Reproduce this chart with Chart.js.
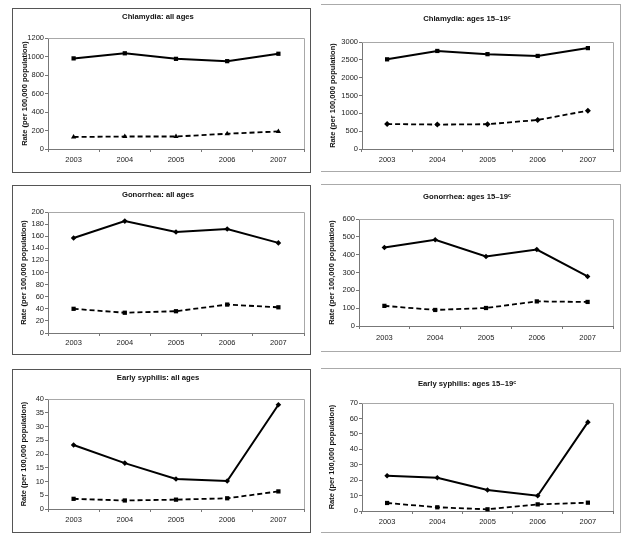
<!DOCTYPE html>
<html>
<head>
<meta charset="utf-8">
<script src="https://cdn.jsdelivr.net/npm/chart.js@4/dist/chart.umd.min.js"></script>
<style>
  body { margin:0; background:#fff; width:628px; height:539px; position:relative; overflow:hidden; }
  canvas { position:absolute; }
  .frame { position:absolute; box-sizing:border-box; pointer-events:none; }
  .frame.l { border:1px solid #555; }
  .frame.r { border-top:1px solid #aaa; border-right:1px solid #aaa; border-bottom:1px solid #aaa; }
</style>
</head>
<body>
<script>
// --- data ---
const years = ['2003', '2004', '2005', '2006', '2007'];

const chlamydiaAll      = [980, 1035, 975, 950, 1030];
const chlamydiaAllLow   = [130, 135, 135, 165, 190];
const chlamydiaTeen     = [2515, 2750, 2660, 2610, 2830];
const chlamydiaTeenLow  = [700, 685, 695, 815, 1075];

const gonorrheaAll      = [157, 185, 167, 172, 149];
const gonorrheaAllLow   = [40, 33.5, 36, 47, 42.5];
const gonorrheaTeen     = [440, 484, 390, 429, 278];
const gonorrheaTeenLow  = [113, 90, 101, 138, 135];

const syphilisAll       = [23.3, 16.7, 10.9, 10.2, 37.9];
const syphilisAllLow    = [3.7, 3.1, 3.4, 3.9, 6.4];
const syphilisTeen      = [22.9, 21.6, 13.6, 9.9, 57.6];
const syphilisTeenLow   = [5.2, 2.4, 1.1, 4.3, 5.4];

const yTitle = 'Rate (per 100,000 population)';

// --- panel layout (frame rect, plot insets, marker kinds) ---
const panels = [
  { title:'Chlamydia: all ages', solid:chlamydiaAll, dashed:chlamydiaAllLow, max:1200, step:200,
    ms:'rect', md:'triangle', side:'l', x:12, y:8, w:299, h:165, yw:36, xh:24, pr:7, tt:4.4, tb:16.4, yt:8.5, lp:3 },
  { title:'Chlamydia: ages 15\u201319\u1D9C', solid:chlamydiaTeen, dashed:chlamydiaTeenLow, max:3000, step:500,
    ms:'rect', md:'rectRot', side:'r', x:321, y:4, w:300, h:168, yw:41, xh:23, pr:8, tt:10.4, tb:18.4, yt:7.5, lp:3 },
  { title:'Gonorrhea: all ages', solid:gonorrheaAll, dashed:gonorrheaAllLow, max:200, step:20,
    ms:'rectRot', md:'rect', side:'l', x:12, y:185, w:299, h:170, yw:36, xh:22, pr:7, tt:5.4, tb:12.4, yt:7.5, lp:2.5 },
  { title:'Gonorrhea: ages 15\u201319\u1D9C', solid:gonorrheaTeen, dashed:gonorrheaTeenLow, max:600, step:100,
    ms:'rectRot', md:'rect', side:'r', x:321, y:184, w:300, h:168, yw:38, xh:26, pr:8, tt:8.4, tb:17.4, yt:6.5, lp:4 },
  { title:'Early syphilis: all ages', solid:syphilisAll, dashed:syphilisAllLow, max:40, step:5,
    ms:'rectRot', md:'rect', side:'l', x:12, y:369, w:299, h:164, yw:36, xh:24, pr:7, tt:4.4, tb:16.4, yt:7.5, lp:3 },
  { title:'Early syphilis: ages 15\u201319\u1D9C', solid:syphilisTeen, dashed:syphilisTeenLow, max:70, step:10,
    ms:'rectRot', md:'rect', side:'r', x:321, y:368, w:300, h:165, yw:41, xh:22, pr:8, tt:11.4, tb:14.4, yt:6.5, lp:3 }
];

Chart.defaults.font.family = "'Liberation Sans', Arial, sans-serif";
Chart.defaults.color = '#222';

// gray box on top/right of the plot area, like the Excel originals
const plotBox = {
  id: 'plotBox',
  beforeDatasetsDraw(chart) {
    const a = chart.chartArea, ctx = chart.ctx;
    ctx.save();
    ctx.strokeStyle = '#a8a8a8';
    ctx.lineWidth = 1;
    ctx.beginPath();
    ctx.moveTo(a.left, Math.round(a.top) + 0.5);
    ctx.lineTo(Math.round(a.right) + 0.5, Math.round(a.top) + 0.5);
    ctx.lineTo(Math.round(a.right) + 0.5, a.bottom);
    ctx.stroke();
    ctx.restore();
  }
};

panels.forEach(p => {
  const cv = document.createElement('canvas');
  cv.width = p.w; cv.height = p.h;
  cv.style.left = p.x + 'px'; cv.style.top = p.y + 'px';
  document.body.appendChild(cv);
  const fr = document.createElement('div');
  fr.className = 'frame ' + p.side;
  fr.style.cssText = `left:${p.x}px;top:${p.y}px;width:${p.w}px;height:${p.h}px;`;
  document.body.appendChild(fr);

  new Chart(cv, {
    type: 'line',
    data: {
      labels: years,
      datasets: [
        { data: p.solid, borderColor:'#000', backgroundColor:'#000', borderWidth:2,
          pointStyle:p.ms, pointRadius:p.ms === 'rect' ? 3 : 2.8, pointBorderWidth:0, tension:0, clip:false },
        { data: p.dashed, borderColor:'#000', backgroundColor:'#000', borderWidth:1.8, borderDash:[5, 3],
          pointStyle:p.md, pointRadius:3, pointBorderWidth:0, tension:0, clip:false }
      ]
    },
    options: {
      responsive: false,
      animation: false,
      layout: { padding: { left:0, right:p.pr, top:0, bottom:0 } },
      plugins: {
        legend: { display:false },
        tooltip: { enabled:false },
        title: { display:true, text:p.title, color:'#111',
                 font:{ size:7.7, weight:'bold' }, padding:{ top:p.tt, bottom:p.tb } }
      },
      scales: {
        x: {
          offset: true,
          grid: { offset:true, drawOnChartArea:false, drawTicks:true, tickLength:3, color:'#777' },
          border: { display:true, color:'#777', width:1 },
          ticks: { font:{ size:7.5 }, padding:p.lp, maxRotation:0 },
          afterFit: s => { s.height = p.xh; }
        },
        y: {
          min: 0, max: p.max,
          grid: { drawOnChartArea:false, drawTicks:true, tickLength:3, color:'#777' },
          border: { display:true, color:'#777', width:1 },
          ticks: { stepSize:p.step, font:{ size:7.5 }, padding:1, callback: v => String(v) },
          title: { display:true, text:yTitle, color:'#111', font:{ size:7.5, weight:'bold' },
                   padding:{ top:p.yt, bottom:0 } },
          afterFit: s => { s.width = p.yw; }
        }
      }
    },
    plugins: [plotBox]
  });
});
</script>
</body>
</html>
